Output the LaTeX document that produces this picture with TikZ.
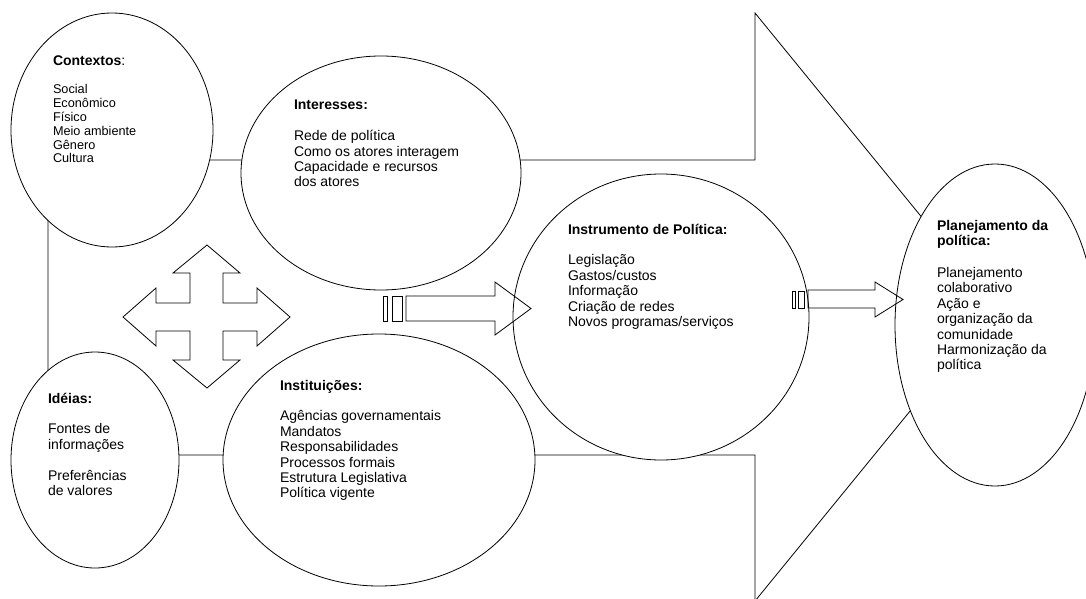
\documentclass[tikz,border=0pt]{standalone}
\usepackage{fontspec}
\setmainfont{Liberation Sans}
\usetikzlibrary{shapes.geometric}
\tikzset{
  bubble/.style={ellipse, draw, fill=white, line width=0.8pt, inner sep=0pt, outer sep=0pt},
  outline/.style={draw, line width=0.8pt, line join=miter},
  txt/.style={anchor=base west, inner sep=0pt, outer sep=0pt, font=\fontsize{14}{15.4}\selectfont},
  smalltxt/.style={anchor=base west, inner sep=0pt, outer sep=0pt, font=\fontsize{12.7}{13.8}\selectfont}
}
\begin{document}
\begin{tikzpicture}[x=1pt,y=-1pt]
\useasboundingbox (0,0) rectangle (1086,599);
\clip (0,0) rectangle (1086,599);
% big background arrow
\draw[outline] (48,160) -- (755,160) -- (755,13) -- (995,307) -- (755,601) -- (755,455) -- (48,455) -- cycle;
% ellipses
\node[bubble, minimum width=202, minimum height=234] (ctx) at (112,130) {};
\node[bubble, minimum width=280, minimum height=234] (int) at (381,173) {};
\node[bubble, minimum width=296, minimum height=286] (instr) at (661,317) {};
\node[bubble, minimum width=200, minimum height=322] (plan) at (995,325) {};
\node[bubble, minimum width=168, minimum height=216] (idei) at (95,460) {};
\node[bubble, minimum width=312, minimum height=252] (inst) at (379,460) {};
% four-way arrow
\draw[outline] (207,245) -- (240,273) -- (223,273) -- (223,303) -- (257,303) -- (257,288) -- (290,317) -- (257,346) -- (257,331) -- (223,331) -- (223,360) -- (240,360) -- (207,388) -- (173,360) -- (190,360) -- (190,331) -- (156,331) -- (156,346) -- (123,317) -- (156,288) -- (156,303) -- (190,303) -- (190,273) -- (173,273) -- cycle;
% middle striped arrow
\draw[outline] (383,296) rectangle (387,321);
\draw[outline] (392,296) rectangle (402,321);
\draw[outline] (406,296) -- (495,296) -- (495,282) -- (531,308.5) -- (495,335) -- (495,321) -- (406,321) -- cycle;
% right striped arrow
\draw[outline] (792,291) rectangle (795,308);
\draw[outline] (798,291) rectangle (804,308);
\draw[outline] (808,290) -- (875,290) -- (875,282) -- (903,299.5) -- (875,317) -- (875,308) -- (808,308) -- cycle;
% texts
\node[smalltxt] (tctx) at (53,66) {\begin{tabular}[t]{@{}l@{}}{\fontsize{14}{13.8}\selectfont\textbf{Contextos}:}\\[14.2pt]
Social\\ Econômico\\ Físico\\ Meio ambiente\\ Gênero\\ Cultura\end{tabular}};
\node[txt] (tint) at (294,110) {\begin{tabular}[t]{@{}l@{}}\textbf{Interesses:}\\ \\
Rede de política\\ Como os atores interagem\\ Capacidade e recursos\\ dos atores\end{tabular}};
\node[txt] (tinstr) at (568,234) {\begin{tabular}[t]{@{}l@{}}\textbf{Instrumento de Política:}\\ \\
Legislação\\ Gastos/custos\\ Informação\\ Criação de redes\\ Novos programas/serviços\end{tabular}};
\node[txt] (tplan) at (937,230) {\begin{tabular}[t]{@{}l@{}}\textbf{Planejamento da}\\ \textbf{política:}\\[16.6pt]
Planejamento\\ colaborativo\\ Ação e\\ organização da\\ comunidade\\ Harmonização da\\ política\end{tabular}};
\node[txt] (tidei) at (48,403) {\begin{tabular}[t]{@{}l@{}}\textbf{Idéias:}\\ \\
Fontes de\\ informações\\ \\ Preferências\\ de valores\end{tabular}};
\node[txt] (tinst) at (280,390) {\begin{tabular}[t]{@{}l@{}}\textbf{Instituições:}\\ \\
Agências governamentais\\ Mandatos\\ Responsabilidades\\ Processos formais\\ Estrutura Legislativa\\ Política vigente\end{tabular}};
\end{tikzpicture}
\end{document}
